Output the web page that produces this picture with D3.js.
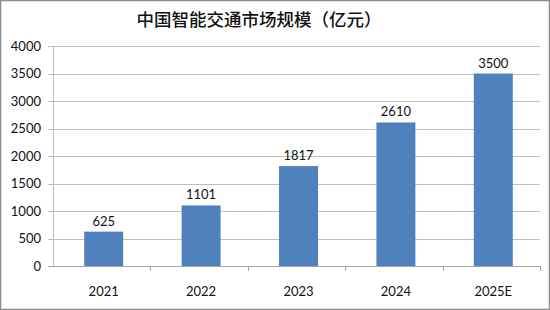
<!DOCTYPE html>
<html>
<head>
<meta charset="utf-8">
<script src="https://cdn.jsdelivr.net/npm/d3@7"></script>
<style>
  body { margin: 0; background: #fff; }
  svg text { font-family: Lato, "Noto Sans", sans-serif; }
</style>
</head>
<body>
<div id="chart"></div>
<script>
// chart data
var years = ["2021", "2022", "2023", "2024", "2025E"];
var values = [625, 1101, 1817, 2610, 3500];
var yTicks = [0, 500, 1000, 1500, 2000, 2500, 3000, 3500, 4000];
var title = "中国智能交通市场规模（亿元）";

var svgWidth = 550;
var svgHeight = 310;

var margin = { top: 46, right: 10, bottom: 44, left: 53 };
var width = svgWidth - margin.left - margin.right;
var height = svgHeight - margin.top - margin.bottom;

var svg = d3.select("#chart")
  .append("svg")
  .attr("width", svgWidth)
  .attr("height", svgHeight);

// outer frame
svg.append("rect")
  .attr("x", 0.5).attr("y", 0.5)
  .attr("width", svgWidth - 1).attr("height", svgHeight - 1)
  .attr("fill", "#fff")
  .attr("stroke", "#8c8c8c")
  .attr("stroke-width", 1.5);

svg.append("text")
  .attr("x", 259)
  .attr("y", 26)
  .attr("text-anchor", "middle")
  .attr("font-size", "17.5px")
  .attr("font-weight", 500)
  .style("font-family", "'Noto Sans CJK SC', sans-serif")
  .attr("fill", "#111")
  .text(title);

var chartGroup = svg.append("g")
  .attr("transform", `translate(${margin.left}, ${margin.top})`);

var xScale = d3.scaleBand()
  .domain(years)
  .range([0, width])
  .paddingInner(0.6)
  .paddingOuter(0.3);

var yScale = d3.scaleLinear()
  .domain([0, 4000])
  .range([height, 0]);

// gridlines
chartGroup.selectAll(".grid")
  .data(yTicks)
  .enter()
  .append("line")
  .attr("x1", -5)
  .attr("x2", width)
  .attr("y1", d => Math.round(yScale(d)) + 0.5)
  .attr("y2", d => Math.round(yScale(d)) + 0.5)
  .attr("stroke", d => d === 0 ? "#a6a6a6" : "#bfbfbf")
  .attr("stroke-width", 1);

// y axis line
chartGroup.append("line")
  .attr("x1", 0.5).attr("x2", 0.5)
  .attr("y1", 0).attr("y2", height)
  .attr("stroke", "#bfbfbf");

// y labels
chartGroup.selectAll(".ylab")
  .data(yTicks)
  .enter()
  .append("text")
  .attr("x", -12)
  .attr("y", d => yScale(d))
  .attr("dy", "0.36em")
  .attr("text-anchor", "end")
  .attr("font-size", "13px")
  .attr("fill", "#111")
  .text(d => d);

// category tick marks between bands
var step = xScale.step();
var tickPos = years.map((d, i) => xScale(d) - xScale.paddingInner() * step / 2)
  .slice(1).concat([width]);
chartGroup.selectAll(".xtick")
  .data(tickPos)
  .enter()
  .append("line")
  .attr("x1", d => Math.round(d) + 0.5)
  .attr("x2", d => Math.round(d) + 0.5)
  .attr("y1", height)
  .attr("y2", height + 5)
  .attr("stroke", "#a6a6a6");

// bars
chartGroup.selectAll(".bar")
  .data(values)
  .enter()
  .append("rect")
  .attr("x", (d, i) => xScale(years[i]) + 2)
  .attr("y", d => yScale(d))
  .attr("width", xScale.bandwidth())
  .attr("height", d => height - yScale(d))
  .attr("fill", "#4f81bd");

// value labels
chartGroup.selectAll(".val")
  .data(values)
  .enter()
  .append("text")
  .attr("x", (d, i) => xScale(years[i]) + 2 + xScale.bandwidth() / 2)
  .attr("y", d => yScale(d) - 6)
  .attr("text-anchor", "middle")
  .attr("font-size", "13px")
  .attr("fill", "#111")
  .text(d => d);

// x labels
chartGroup.selectAll(".xlab")
  .data(years)
  .enter()
  .append("text")
  .attr("x", d => xScale(d) + 2 + xScale.bandwidth() / 2)
  .attr("y", height + 25)
  .attr("dy", "0.36em")
  .attr("text-anchor", "middle")
  .attr("font-size", "13px")
  .attr("fill", "#111")
  .text(d => d);
</script>
</body>
</html>
